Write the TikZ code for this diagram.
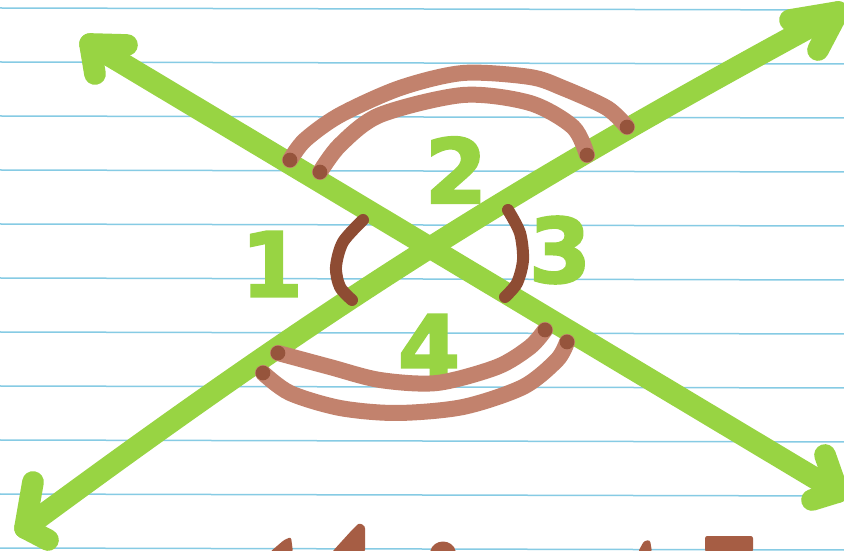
\documentclass[tikz,border=0pt]{standalone}
\usepackage{fontspec}
\newfontfamily\markfont[FakeBold=2.5]{DejaVu Sans Bold}
\usetikzlibrary{calc}
\definecolor{padblue}{HTML}{86CBE4}
\definecolor{markgreen}{HTML}{98D443}
\definecolor{arcbrown}{HTML}{C2826D}
\definecolor{arcdark}{HTML}{8E4C33}
\definecolor{inkbrown}{HTML}{A65D44}
\tikzset{
  rule/.style={draw=padblue, line width=0.45mm},
  marker/.style={draw=markgreen, line width=6.5mm, line cap=round, line join=round},
  angarc/.style={draw=arcbrown, line width=4.8mm, line cap=round},
  smallarc/.style={draw=arcdark, line width=3.6mm, line cap=round},
  arcend/.style={fill=arcdark!85!arcbrown},
  num/.style={text=markgreen, font=\markfont\fontsize{76}{76}\selectfont, inner sep=0pt},
}
\begin{document}
\begin{tikzpicture}[x=0.3mm,y=-0.3mm]
      % ruled paper, two crossing lines, four angles
      \clip (0,0) rectangle (844,551);
      \fill[white] (0,0) rectangle (844,551);
      \foreach \k in {0,...,10} { \draw[rule] (0,8+54*\k) -- (844,10+54*\k); }
      \coordinate (ul) at (90,44);  \coordinate (lr) at (838,492);
      \coordinate (ll) at (25,528); \coordinate (ur) at (838,12);
      \draw[marker] (ul) -- (lr);
      \draw[marker] (ll) to[bend left=4] (ur);
      \draw[marker] (127,45) -- (ul) -- (95,74);
      \draw[marker] (790,20) -- (ur) -- (818,50);
      \draw[marker] (825,455) -- (lr) -- (812,500);
      \draw[marker] (33,482) -- (ll) -- (48,540);
      \node[num] (n1) at (272,264) {1};
      \node[num] (n2) at (456,170) {2};
      \node[num] (n3) at (560,250) {3};
      \node[num] (n4) at (429,347) {4};
      \draw[angarc] plot[smooth] coordinates {(290,160) (305,140) (340,115) (400,88) (463,73) (530,77) (563,88) (607,108) (627,127)};
      \draw[angarc] plot[smooth] coordinates {(320,172) (340,145) (380,115) (463,95) (530,103) (573,127) (587,155)};
      \draw[angarc] plot[smooth] coordinates {(278,353) (330,367) (380,380) (437,383) (497,367) (530,347) (545,330)};
      \draw[angarc] plot[smooth] coordinates {(263,373) (290,393) (340,408) (397,413) (463,407) (523,387) (557,360) (567,342)};
      \draw[smallarc] plot[smooth] coordinates {(363,220) (343,242) (336,267) (340,287) (352,300)};
      \draw[smallarc] plot[smooth] coordinates {(508,210) (520,233) (523,260) (517,283) (505,297)};
      \foreach \p in {(290,160),(320,172),(587,155),(627,127),(278,353),(545,330),(263,373),(567,342)}
        { \fill[arcend] \p circle (2.2mm); }
      \fill[inkbrown, rounded corners=2pt] (270,552) -- (284,540) -- (291,537) -- (293,552) -- cycle;
      \fill[inkbrown, rounded corners=2pt] (332,552) -- (352,530) -- (359,523) -- (365,526) -- (365,552) -- cycle;
      \fill[inkbrown] (430,552) .. controls (433,538) and (453,538) .. (456,552) -- cycle;
      \fill[inkbrown, rounded corners=2pt] (638,552) -- (644,541) -- (650,540) -- (652,552) -- cycle;
      \fill[inkbrown, rounded corners=2pt] (705,536) rectangle (753,552);
    \end{tikzpicture}
\end{document}
